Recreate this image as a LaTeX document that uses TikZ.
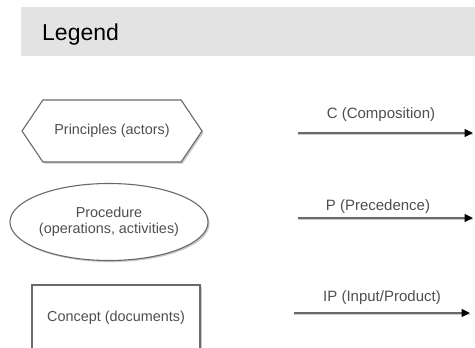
\documentclass[tikz,border=0pt]{standalone}
\usepackage{fontspec}
\setmainfont{Liberation Sans}
\usetikzlibrary{shapes.geometric,shapes.symbols,arrows.meta,shadows}
\definecolor{bandgrey}{HTML}{E3E3E3}
\definecolor{edgegrey}{HTML}{6A6A6A}
\definecolor{textgrey}{HTML}{4F4F4F}

\begin{document}
\begin{tikzpicture}[x=1pt,y=-1pt,
    legendbox/.style={draw=edgegrey, line width=1.1pt, fill=white, text=textgrey,
      font=\fontsize{14.4}{16}\selectfont, align=center, inner sep=0pt,
      drop shadow={shadow xshift=1.6pt, shadow yshift=-1.6pt, fill=black!22, opacity=1}},
    rel/.style={draw=edgegrey, line width=1.3pt,
      -{Triangle[length=8.5pt,width=8pt,color=black,fill=black]},
      preaction={draw=black!20, line width=1.3pt, -, transform canvas={yshift=-1.6pt}}},
    lbl/.style={text=textgrey, font=\fontsize{15}{17}\selectfont, inner sep=0pt}]
    \useasboundingbox (0,0) rectangle (475,348);
    \clip (0,0) rectangle (475,348);

    % header band
    \fill[bandgrey] (21,7) rectangle (475,56);
    \node[anchor=base west, inner sep=0pt, font=\fontsize{23}{27}\selectfont] (title) at (42,40) {Legend};

    % node kinds
    \node[legendbox, signal, signal to=west and east, signal pointer angle=112,
      minimum width=180pt, minimum height=62pt] (princ) at (112,131) {Principles (actors)};
    \node[legendbox, ellipse, minimum width=198pt, minimum height=77pt] (proc) at (109,222)
      {Procedure\\(operations, activities)};
    \node[legendbox, rectangle, minimum width=168pt, minimum height=66pt] (conc) at (116,318)
      {Concept (documents)};

    % relation kinds
    \coordinate (compS) at (298,133);
    \coordinate (compE) at (473,133);
    \draw[rel] (compS) -- (compE);
    \node[lbl] (compL) at (381,115) {C (Composition)};

    \coordinate (precS) at (298,218);
    \coordinate (precE) at (473,218);
    \draw[rel] (precS) -- (precE);
    \node[lbl] (precL) at (378,207) {P (Precedence)};

    \coordinate (ipS) at (294,313);
    \coordinate (ipE) at (470,313);
    \draw[rel] (ipS) -- (ipE);
    \node[lbl] (ipL) at (382,298) {IP (Input/Product)};
\end{tikzpicture}
\end{document}
